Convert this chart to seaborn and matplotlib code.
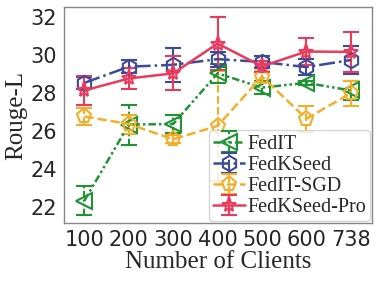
import numpy as np
import matplotlib.pyplot as plt
import seaborn as sns

# Data
clients = ["100", "200", "300", "400", "500", "600", "738"]

fedit = [22.35, 26.35, 26.38, 29.05, 28.3, 28.55, 28.15]
fedit_err = [0.75, 1.05, 0.48, 0.5, 0.35, 0.1, 0.48]

fedkseed = [28.55, 29.4, 29.5, 29.8, 29.65, 29.38, 29.75]
fedkseed_err = [0.3, 0.35, 0.88, 0.4, 0.3, 0.4, 0.75]

fedit_sgd = [26.78, 26.38, 25.58, 26.28, 28.88, 26.66, 28.0]
fedit_sgd_err = [0.45, 0.5, 0.2, 2.9, 0.3, 0.68, 0.65]

fedkseed_pro = [28.15, 28.78, 29.05, 30.62, 29.42, 30.2, 30.18]
fedkseed_pro_err = [0.77, 0.55, 0.9, 1.4, 0.3, 0.7, 1.05]

series = [
    ("FedIT", fedit, fedit_err, "#1e9433", "<", (0, (3, 1.2, 1, 1.2, 1, 1.2))),
    ("FedKSeed", fedkseed, fedkseed_err, "#3b4a9b", "h", "-."),
    ("FedIT-SGD", fedit_sgd, fedit_sgd_err, "#f5ae2c", "p", "--"),
    ("FedKSeed-Pro", fedkseed_pro, fedkseed_pro_err, "#ec3a5c", "*", "-"),
]

sns.set_style("white")
plt.rcParams['font.family'] = ['DejaVu Sans']

fig = plt.figure(figsize=(3.79, 2.84), dpi=100)
ax = fig.add_axes([0.169, 0.215, 0.8125, 0.76])

x = np.arange(len(clients))
for name, vals, err, color, marker, ls in series:
    eb = ax.errorbar(x, vals, yerr=err, color=color, marker=marker, linestyle=ls,
                     markersize=11, markerfacecolor="none", markeredgewidth=1.5,
                     linewidth=1.8, capsize=6, capthick=1.5, elinewidth=1.5,
                     label=name)
    eb[-1][0].set_linestyle(ls)

ax.set_xticks(x)
ax.set_xticklabels(clients)
ax.set_xlim(-0.46, 6.48)
ax.set_ylim(21.17, 32.54)
ax.set_yticks([22, 24, 26, 28, 30, 32])
ax.tick_params(axis='both', labelsize=15, length=3, width=0.8, color='#555555', pad=2)
for s in ax.spines.values():
    s.set_color('#888888')
    s.set_linewidth(1.0)

ax.set_xlabel("Number of Clients", family="Liberation Serif", fontsize=18, labelpad=1)
ax.set_ylabel("Rouge-L", family="Liberation Serif", fontsize=18, labelpad=2)

leg = ax.legend(loc="lower right", prop={'family': 'Liberation Serif', 'size': 14.5},
                handlelength=1.6, handletextpad=0.1, labelspacing=0.1,
                borderpad=0.2, borderaxespad=0.1, framealpha=0.8)

plt.savefig("out.png", dpi=100)
